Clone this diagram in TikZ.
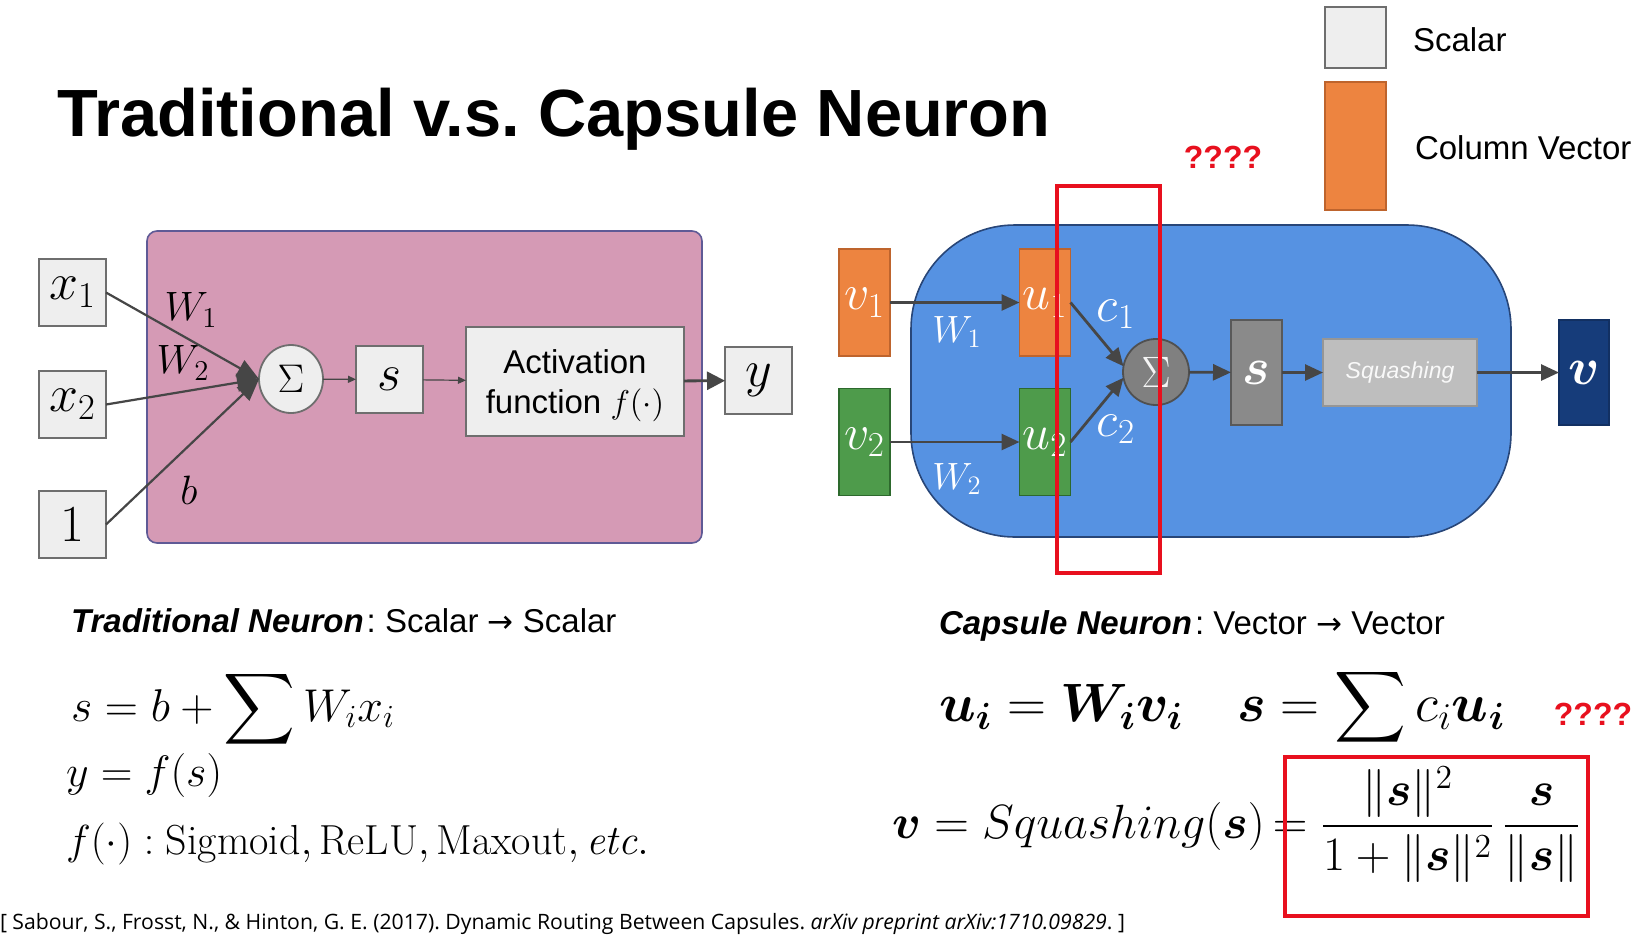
\RequirePackage{fix-cm}
\documentclass[tikz,border=0pt]{standalone}
\usepackage{amsmath,bm}
\usepackage{fontspec}
\newfontfamily\arial{Liberation Sans}
\newfontfamily\citefont{Open Sans}
\newfontfamily\dejavu{DejaVu Sans}
\usetikzlibrary{shapes.geometric,arrows.meta}
\definecolor{pinkfill}{RGB}{213,154,181}
\definecolor{pinkbd}{RGB}{95,90,150}
\definecolor{scalfill}{RGB}{238,238,238}
\definecolor{scalbd}{RGB}{110,110,110}
\definecolor{arrowc}{RGB}{70,70,70}
\definecolor{capblue}{RGB}{86,146,226}
\definecolor{capbd}{RGB}{40,70,120}
\definecolor{vorange}{RGB}{237,132,64}
\definecolor{vorangebd}{RGB}{190,100,45}
\definecolor{vgreen}{RGB}{78,155,75}
\definecolor{vgreenbd}{RGB}{45,105,45}
\definecolor{sigfill}{RGB}{128,128,128}
\definecolor{sigbd}{RGB}{80,80,80}
\definecolor{sfill}{RGB}{138,138,138}
\definecolor{squfill}{RGB}{190,190,190}
\definecolor{squbd}{RGB}{150,150,150}
\definecolor{navyc}{RGB}{22,60,122}
\definecolor{redc}{RGB}{232,16,30}
\frenchspacing
\newcommand{\rarr}{{\dejavu\fontsize{15.5}{18}\selectfont →}}
\begin{document}
\begin{tikzpicture}[x=0.5pt,y=-0.5pt,
  every node/.style={inner sep=0pt,outer sep=0pt},
  scal/.style={draw=scalbd,fill=scalfill,line width=0.9pt,minimum width=33.5pt,minimum height=33.5pt,font=\fontsize{26}{30}\selectfont},
  vecbox/.style={line width=0.8pt,minimum width=25.5pt,minimum height=53.5pt,text=white,font=\fontsize{25}{30}\selectfont},
  orangebox/.style={vecbox,draw=vorangebd,fill=vorange},
  greenbox/.style={vecbox,draw=vgreenbd,fill=vgreen},
  leftlab/.style={font=\fontsize{20.5}{24}\selectfont},
  wlab/.style={text=white,font=\fontsize{19}{24}\selectfont},
  clab/.style={text=white,font=\fontsize{25}{30}\selectfont},
  legtxt/.style={anchor=base west,font=\arial\fontsize{16.5}{20}\selectfont},
  redq/.style={text=redc,font=\arial\bfseries\fontsize{16}{20}\selectfont},
  redbox/.style={draw=redc,line width=2pt},
  arrL/.style={draw=arrowc,line width=1.1pt,-{Triangle[length=11pt,width=9pt]}},
  arrS/.style={draw=arrowc,line width=0.6pt,-{Triangle[length=4pt,width=3.5pt]}},
  arrY/.style={draw=arrowc,line width=1.4pt,-{Triangle[length=9pt,width=9pt]}},
  arrR/.style={draw=arrowc,line width=1.4pt,-{Triangle[length=9pt,width=8pt]}},
  eqL/.style={anchor=base west,font=\fontsize{22}{26}\selectfont},
  eqR/.style={anchor=base west,font=\fontsize{27}{30}\selectfont}
]
\fill[white] (0,0) rectangle (1639,944);
\useasboundingbox (0,0) rectangle (1639,944);

% title
\node[anchor=base west,font=\arial\bfseries\fontsize{33.4}{36}\selectfont] (title) at (57,136) {Traditional v.s. Capsule Neuron};

% legend
\node[draw=scalbd,fill=scalfill,line width=0.8pt,minimum width=30.5pt,minimum height=30.5pt] (lscal) at (1355.5,37.5) {};
\node[legtxt] (lscaltxt) at (1413,51) {Scalar};
\node[draw=vorangebd,fill=vorange,line width=0.8pt,minimum width=30.5pt,minimum height=64pt] (lvec) at (1355.5,146) {};
\node[legtxt] (lvectxt) at (1415,159) {Column Vector};
\node[redq] (q1) at (1223,157) {????};

% ---------- traditional neuron ----------
\node[draw=pinkbd,fill=pinkfill,rounded corners=5pt,line width=0.8pt,minimum width=277.5pt,minimum height=156pt] (pink) at (424.5,387) {};
\node[scal] (x1) at (72.5,292.5) {$x_1$};
\node[scal] (x2) at (72.5,404.5) {$x_2$};
\node[scal] (one) at (72.5,524.5) {$1$};
\node[ellipse,draw=scalbd,fill=scalfill,line width=0.9pt,minimum width=32pt,minimum height=34pt,font=\fontsize{20}{24}\selectfont] (sig) at (291,379) {$\Sigma$};
\node[scal] (s) at (389.5,379.5) {$s$};
\node[scal,minimum width=109pt,minimum height=54.5pt] (act) at (575,381.5) {};
\node[align=center,font=\arial\fontsize{16.5}{20}\selectfont] (acttxt) at (575,386) {Activation\\function $f(\cdot)$};
\node[scal] (y) at (758.5,380.5) {$y$};
\node[leftlab] (W1) at (191,310) {$W_1$};
\node[leftlab] (W2) at (183,363) {$W_2$};
\node[leftlab] (b) at (189,490) {$b$};
\draw[arrL] (x1.east) -- (sig.west);
\draw[arrL] (x2.east) -- (sig.west);
\draw[arrL] (one.east) -- (sig.west);
\draw[arrS] (sig) -- (s);
\draw[arrS] (s) -- (act);
\draw[arrY] (act) -- (y);

% ---------- capsule neuron ----------
\node[draw=capbd,fill=capblue,rounded corners=52pt,line width=0.8pt,minimum width=300pt,minimum height=156pt] (cap) at (1211,381) {};
\node[orangebox] (v1) at (864.5,302.5) {$v_1$};
\node[greenbox] (v2) at (864.5,442) {$v_2$};
\node[orangebox] (u1) at (1045,302.5) {$u_1$};
\node[greenbox] (u2) at (1045,442) {$u_2$};
\node[circle,draw=sigbd,fill=sigfill,line width=0.9pt,minimum size=33pt,text=white!92!gray,font=\fontsize{22}{26}\selectfont] (sg) at (1156,372) {$\Sigma$};
\node[draw=gray!70!black,fill=sfill,line width=0.8pt,minimum width=25.5pt,minimum height=52.5pt,text=white,font=\fontsize{26}{30}\selectfont] (sv) at (1256.5,372.5) {$\bm{s}$};
\node[draw=squbd,fill=squfill,line width=0.8pt,minimum width=77pt,minimum height=33.5pt,text=white!95!gray,font=\arial\itshape\fontsize{11.5}{14}\selectfont] (squ) at (1400,372.5) {Squashing};
\node[draw=navyc!80!black,fill=navyc,line width=0.8pt,minimum width=25pt,minimum height=52.5pt,text=white,font=\fontsize{26}{30}\selectfont] (vv) at (1584,372.5) {$\bm{v}$};
\node[wlab] (W1r) at (957,332) {$W_1$};
\node[wlab] (W2r) at (957,479) {$W_2$};
\node[clab] (c1) at (1116,314) {$c_1$};
\node[clab] (c2) at (1116,429) {$c_2$};
\draw[arrR] (v1) -- (u1);
\draw[arrR] (v2) -- (u2);
\draw[arrR] (u1.east) -- (sg.170);
\draw[arrR] (u2.east) -- (sg.190);
\draw[arrR] (sg) -- (sv);
\draw[arrR] (sv) -- (squ);
\draw[arrR] (squ) -- (vv);
\node[redbox,minimum width=51.5pt,minimum height=193.5pt] (rsel) at (1108.5,379.5) {};

% ---------- captions & equations ----------
\node[legtxt] (cap1) at (71,632) {\textbf{\textit{Traditional Neuron\/}}\kern1.5pt: Scalar \rarr{} Scalar};
\node[legtxt] (cap2) at (939,634) {\textbf{\textit{Capsule Neuron\/}}\kern1.5pt: Vector \rarr{} Vector};
\node[eqL,font=\fontsize{23}{26}\selectfont] (eq1) at (71,721) {$s=b+\displaystyle\sum W_ix_i$};
\node[eqL] (eq2) at (66,786) {$y=f(s)$};
\node[eqL,font=\fontsize{21}{24}\selectfont] (eq3) at (66,854) {$f(\cdot):\mathrm{Sigmoid},\mathrm{ReLU},\mathrm{Maxout},\mathit{etc.}$};
\node[eqR] (eq4) at (939,721) {$\bm{u_i}=\bm{W_i}\bm{v_i}\quad\bm{s}=\displaystyle\sum c_i\bm{u_i}$};
\node[redq] (q2) at (1593,714) {????};
\node[eqR,font=\fontsize{24}{28}\selectfont] (eq5) at (892,838) {$\bm{v}=Squashing(\bm{s})\mkern-2mu=\dfrac{\|\bm{s}\|^2}{1+\|\bm{s}\|^2}\,\dfrac{\bm{s}}{\|\bm{s}\|}$};
\node[redbox,minimum width=151.5pt,minimum height=79.5pt] (rform) at (1436.5,836.5) {};
\node[anchor=base west,font=\citefont\fontsize{10.6}{12}\selectfont] (cite) at (0,929) {[ Sabour, S., Frosst, N., \& Hinton, G. E. (2017). Dynamic Routing Between Capsules. \textit{arXiv preprint arXiv:1710.09829}. ]};
\end{tikzpicture}
\end{document}
